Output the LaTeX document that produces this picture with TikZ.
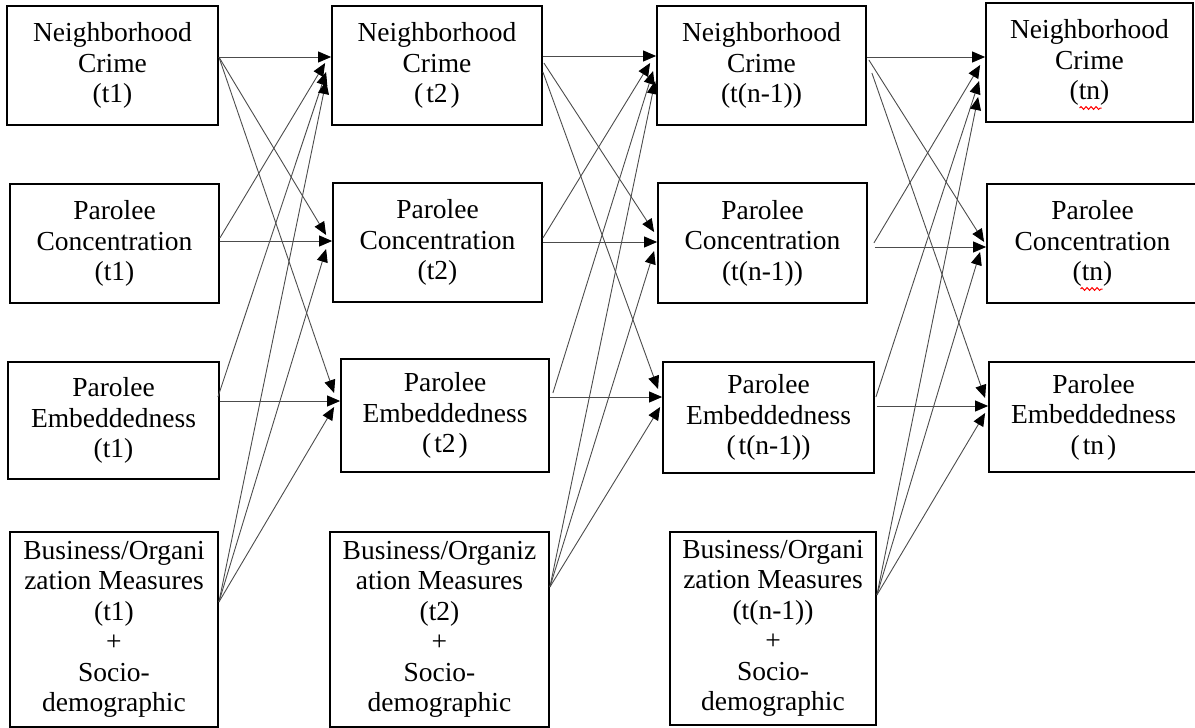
\documentclass[tikz,border=0pt]{standalone}
\usepackage{fontspec}
\setmainfont{Liberation Serif}
\usetikzlibrary{arrows.meta,decorations.pathmorphing}
\tikzset{
  box/.style={draw, line width=1.8pt, align=center, inner sep=0pt, font=\fontsize{27.5}{30.5}\selectfont},
  link/.style={draw=black!70, line width=0.9pt, -{Triangle[length=13pt,width=11pt,color=black]}},
  squiggle/.style={draw=red, line width=1pt, decorate, decoration={snake, amplitude=1.4pt, segment length=5pt}}
}
\begin{document}
\begin{tikzpicture}[x=1pt,y=-1pt]
                \useasboundingbox (0,0) rectangle (1195,728);
                \node[box, minimum width=211, minimum height=119] (nc1) at (112.5,65.5) {Neighborhood\\Crime\\(t1)};
                \node[box, minimum width=209, minimum height=119] (pc1) at (114.5,243.5) {Parolee\\Concentration\\(t1)};
                \node[box, minimum width=211, minimum height=117] (pe1) at (113.5,420.5) {Parolee\\Embeddedness\\(t1)};
                \node[box, minimum width=208, minimum height=195] (bo1) at (114,629.5) {Business/Organi\\zation Measures\\(t1)\\+\\Socio-\\demographic};
                \node[box, minimum width=210, minimum height=119] (nc2) at (437,65.5) {Neighborhood\\Crime\\(\kern3pt t2\kern3pt)};
                \node[box, minimum width=209, minimum height=119] (pc2) at (437.5,242.5) {Parolee\\Concentration\\(t2)};
                \node[box, minimum width=208, minimum height=113] (pe2) at (445,415.5) {Parolee\\Embeddedness\\(\kern3pt t2\kern3pt)};
                \node[box, minimum width=219, minimum height=195] (bo2) at (439.5,629.5) {Business/Organiz\\ation Measures\\(t2)\\+\\Socio-\\demographic};
                \node[box, minimum width=209, minimum height=119] (nc3) at (761.5,65.5) {Neighborhood\\Crime\\(t(n-1))};
                \node[box, minimum width=209, minimum height=120] (pc3) at (762.5,243) {Parolee\\Concentration\\(t(n-1))};
                \node[box, minimum width=211, minimum height=111] (pe3) at (768.5,417.5) {Parolee\\Embeddedness\\(\kern3pt t(n-1))};
                \node[box, minimum width=206, minimum height=193] (bo3) at (773,628.5) {Business/Organi\\zation Measures\\(t(n-1))\\+\\Socio-\\demographic};
                \node[box, minimum width=207, minimum height=119] (nc4) at (1089.5,62.5) {Neighborhood\\Crime\\(tn)};
                \node[box, minimum width=211, minimum height=119] (pc4) at (1092.5,243.5) {Parolee\\Concentration\\(tn)};
                \node[box, minimum width=209, minimum height=110] (pe4) at (1093.5,417) {Parolee\\Embeddedness\\(\kern3pt tn\kern3pt)};
                \draw[squiggle] ([xshift=-10,yshift=-45.5]nc4.center) -- ([xshift=12,yshift=-45.5]nc4.center);
                \draw[squiggle] ([xshift=-12,yshift=-45.5]pc4.center) -- ([xshift=10,yshift=-45.5]pc4.center);
                % t1 -> t2
                \draw[link] ([yshift=8.5]nc1.east) -- ([yshift=8.5]nc2.west);
                \draw[link] ([yshift=8.5]nc1.east) -- ([xshift=-6,yshift=7.5]pc2.west);
                \draw[link] ([yshift=8.5]nc1.east) -- ([xshift=-6,yshift=22.5]pe2.west);
                \draw[link] ([yshift=5.5]pc1.east) -- ([xshift=-6,yshift=2.5]nc2.west);
                \draw[link] ([yshift=2.5]pc1.east) -- ([yshift=1.5]pc2.west);
                \draw[link] ([xshift=-2,yshift=23.5]pe1.east) -- ([xshift=-5,yshift=-6.5]nc2.west);
                \draw[link] ([yshift=19.5]pe1.east) -- ([yshift=14.5]pe2.west);
                \draw[link] ([yshift=27.5]bo1.east) -- ([xshift=-5,yshift=-15.5]nc2.west);
                \draw[link] ([yshift=27.5]bo1.east) -- ([xshift=-6,yshift=-6.5]pc2.west);
                \draw[link] ([yshift=27.5]bo1.east) -- ([xshift=-6,yshift=8.5]pe2.west);
                % t2 -> t(n-1)
                \draw[link] ([yshift=9.5]nc2.east) -- ([yshift=9.5]nc3.west);
                \draw[link] ([xshift=1,yshift=2.5]nc2.east) -- ([xshift=-3,yshift=11]pc3.west);
                \draw[link] ([yshift=-6.5]nc2.east) -- ([xshift=-4,yshift=28.5]pe3.west);
                \draw[link] ([yshift=4.5]pc2.east) -- ([xshift=-6,yshift=2.5]nc3.west);
                \draw[link] ([yshift=0.5]pc2.east) -- ([yshift=1]pc3.west);
                \draw[link] ([xshift=3,yshift=22.5]pe2.east) -- ([xshift=-3,yshift=-5.5]nc3.west);
                \draw[link] ([yshift=18.5]pe2.east) -- ([yshift=20.5]pe3.west);
                \draw[link] ([yshift=42.5]bo2.east) -- ([xshift=-1,yshift=-15.5]nc3.west);
                \draw[link] ([yshift=42.5]bo2.east) -- ([xshift=-3,yshift=-8]pc3.west);
                \draw[link] ([yshift=42.5]bo2.east) -- ([xshift=-2,yshift=10.5]pe3.west);
                % t(n-1) -> tn
                \draw[link] ([yshift=8.5]nc3.east) -- ([yshift=5.5]nc4.west);
                \draw[link] ([xshift=2,yshift=5.5]nc3.east) -- ([xshift=-2,yshift=1.5]pc4.west);
                \draw[link] ([xshift=5,yshift=-7.5]nc3.east) -- ([xshift=-3,yshift=19]pe4.west);
                \draw[link] ([xshift=6]pc3.east) -- ([xshift=-5,yshift=-2.5]nc4.west);
                \draw[link] ([xshift=7,yshift=-4]pc3.east) -- ([yshift=-3.5]pc4.west);
                \draw[link] ([xshift=1,yshift=20.5]pe3.east) -- ([xshift=-6,yshift=-18.5]nc4.west);
                \draw[link] ([xshift=2,yshift=11.5]pe3.east) -- ([yshift=11]pe4.west);
                \draw[link] ([yshift=33.5]bo3.east) -- ([xshift=-7,yshift=-34.5]nc4.west);
                \draw[link] ([yshift=33.5]bo3.east) -- ([xshift=-6,yshift=-8.5]pc4.west);
                \draw[link] ([yshift=33.5]bo3.east) -- ([xshift=-3,yshift=4]pe4.west);
            \end{tikzpicture}
\end{document}
